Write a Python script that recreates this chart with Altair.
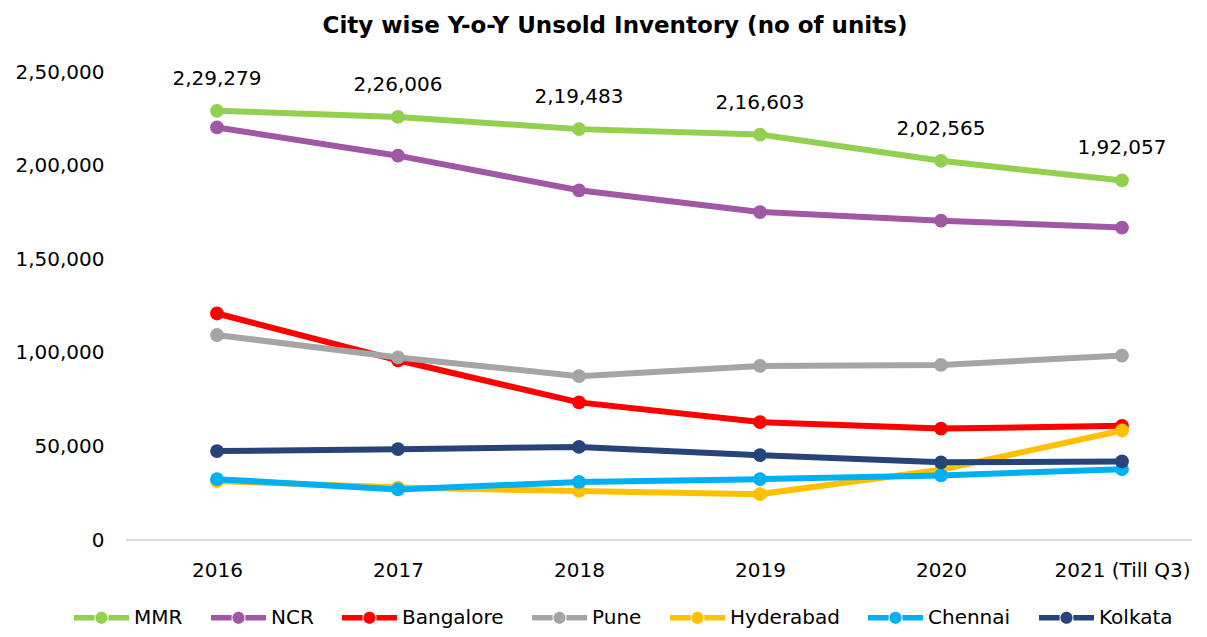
import altair as alt
import pandas as pd

years = ["2016", "2017", "2018", "2019", "2020", "2021 (Till Q3)"]
cities = ["MMR", "NCR", "Bangalore", "Pune", "Hyderabad", "Chennai", "Kolkata"]
colors = ["#92D050", "#A057A4", "#FF0000", "#A5A5A5", "#FFC000", "#00B0F0", "#264478"]

mmr = [229279, 226006, 219483, 216603, 202565, 192057]
ncr = [220400, 205300, 186800, 175200, 170600, 166900]
bangalore = [121000, 96000, 73500, 63000, 59500, 61000]
pune = [109500, 97500, 87500, 93000, 93500, 98500]
hyderabad = [31500, 28000, 26200, 24500, 37500, 58500]
chennai = [32500, 27000, 31000, 32500, 34500, 37800]
kolkata = [47500, 48500, 49700, 45300, 41500, 42000]

y_ticks = [0, 50000, 100000, 150000, 200000, 250000]

series = dict(zip(cities, [mmr, ncr, bangalore, pune, hyderabad, chennai, kolkata]))


def inr(v):
    s = str(int(v))
    if len(s) <= 3:
        return s
    last3, rest = s[-3:], s[:-3]
    groups = []
    while len(rest) > 2:
        groups.insert(0, rest[-2:])
        rest = rest[:-2]
    if rest:
        groups.insert(0, rest)
    return ",".join(groups) + "," + last3


rows = []
for c in cities:
    for yr, v in zip(years, series[c]):
        rows.append({"city": c, "year": yr, "value": v, "label": inr(v)})
df = pd.DataFrame(rows)

FONT = "DejaVu Sans"
W, H = 1066, 468
step = 181
x_scale = alt.Scale(domain=years, range=[91, 91 + 5 * step], padding=0)
y_scale = alt.Scale(domain=[0, 250000], nice=False)

label_expr = " : ".join(
    [f"datum.value == {t} ? '{inr(t)}'" for t in y_ticks]
) + " : ''"

y_axis = alt.Axis(title=None, values=y_ticks, labelExpr=label_expr, labelFontSize=20,
                  labelFont=FONT, labelColor="#000", ticks=False, domain=False,
                  grid=False, labelPadding=22)

x_enc = alt.X("year:N", scale=x_scale, sort=years,
              axis=alt.Axis(title=None, labelFontSize=20, labelFont=FONT, labelColor="#000",
                            ticks=False, domain=False, labelPadding=20, labelAngle=0))
y_enc = alt.Y("value:Q", scale=y_scale, axis=y_axis)

base = alt.Chart(df)

baseline = base.transform_filter(alt.datum.city == "MMR").transform_aggregate(
    v="min(value)"
).transform_calculate(value="0").mark_rule(color="#D9D9D9", strokeWidth=2).encode(
    y=alt.Y("value:Q", scale=y_scale, axis=y_axis), x=alt.value(0), x2=alt.value(W)
)

sym = ("M-1,-0.1L-0.25,-0.1L-0.25,0.1L-1,0.1Z "
       "M0.25,-0.1L1,-0.1L1,0.1L0.25,0.1Z "
       "M-0.22,0A0.22,0.22 0 1,1 0.22,0A0.22,0.22 0 1,1 -0.22,0Z")

legend = alt.Legend(title=None, orient="none", direction="horizontal", columns=7,
                    legendX=-52, legendY=518, symbolType=sym, symbolSize=3025,
                    symbolStrokeWidth=0, labelFontSize=20, labelFont=FONT, labelColor="#000",
                    labelOffset=5, columnPadding=28, labelLimit=300, padding=0)

color_enc = alt.Color("city:N", scale=alt.Scale(domain=cities, range=colors), legend=legend)

layers = [baseline]
for c, col in zip(cities, colors):
    sub = base.transform_filter(alt.datum.city == c)
    layers.append(sub.mark_line(strokeWidth=6, color=col).encode(x=x_enc, y=y_enc))
    layers.append(sub.mark_point(filled=True, size=190, opacity=1).encode(x=x_enc, y=y_enc, color=color_enc))

labels = base.transform_filter(alt.datum.city == "MMR").mark_text(
    fontSize=20, font=FONT, color="#000", baseline="middle", dy=-32
).encode(x=x_enc, y=y_enc, text="label:N")
layers.append(labels)

chart = alt.layer(*layers).properties(
    width=W, height=H,
    title=alt.TitleParams("City wise Y-o-Y Unsold Inventory (no of units)", fontSize=23,
                          font=FONT, fontWeight="bold", color="#000", anchor="middle",
                          dx=-44, offset=24),
    autosize=alt.AutoSizeParams(type="none"),
    padding={"left": 118, "top": 64, "right": 7, "bottom": 95},
    background="white",
).configure_view(stroke=None)

chart.save("out.html", embed_options={"renderer": "svg", "actions": False})
